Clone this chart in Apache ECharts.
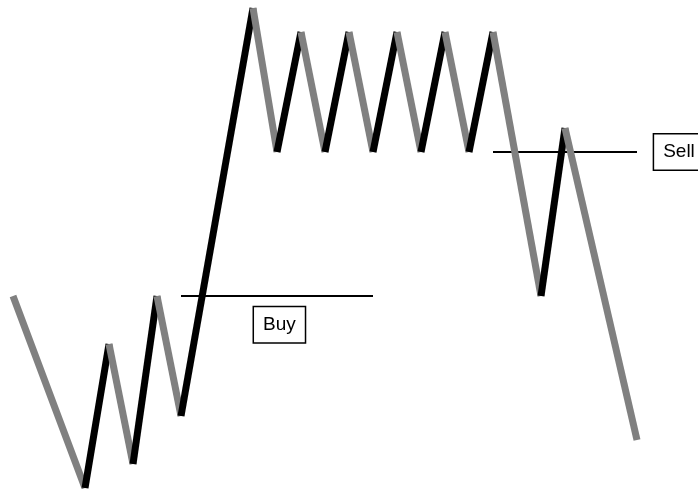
<!DOCTYPE html>
<html>
<head>
<meta charset="utf-8">
<script src="https://cdn.jsdelivr.net/npm/echarts@6/dist/echarts.min.js"></script>
<style>
  html, body { margin: 0; padding: 0; background: #fff; }
  #chart { width: 698px; height: 489px; }
</style>
</head>
<body>
<div id="chart"></div>
<script>
// zigzag price path: time step and price level at each turning point
const steps = [0, 3, 4, 5, 6, 7, 10, 11, 12, 13, 14, 15, 16, 17, 18, 19, 20, 22, 23, 26];
const prices = [8, 0, 6, 1, 8, 3, 20, 14, 19, 14, 19, 14, 19, 14, 19, 14, 19, 8, 15, 2];

// buy / sell levels: [from step, to step, price]
const levelNames = ["Buy", "Sell"];
const levelFrom = [7, 20];
const levelTo = [15, 26];
const levelPrice = [8, 14];
// where the boxed labels sit
const labelX = [11.1, 27.75];
const labelY = [6.8, 14];

const chart = echarts.init(document.getElementById("chart"));

// one segment per leg, rising legs black, falling legs grey
const legs = [];
for (let i = 1; i < steps.length; i++) {
  const up = prices[i] > prices[i - 1];
  legs.push({
    coords: [[steps[i - 1], prices[i - 1]], [steps[i], prices[i]]],
    lineStyle: { color: up ? "#000000" : "#808080" },
  });
}

const levels = levelNames.map((n, i) => ({
  coords: [[levelFrom[i], levelPrice[i]], [levelTo[i], levelPrice[i]]],
}));

const labelStyle = {
  show: true,
  position: "inside",
  formatter: "{b}",
  fontFamily: "Liberation Sans, Arial, sans-serif",
  fontSize: 19,
  color: "#000",
  backgroundColor: "#fff",
  borderColor: "#000",
  borderWidth: 1.5,
  padding: [8, 9, 8, 9],
};

chart.setOption({
  animation: false,
  backgroundColor: "#fff",
  grid: { left: 13, right: 61, top: 8, bottom: 1 },
  xAxis: { type: "value", min: 0, max: 26, show: false },
  yAxis: { type: "value", min: 0, max: 20, show: false },
  series: [
    {
      type: "lines",
      coordinateSystem: "cartesian2d",
      z: 1,
      lineStyle: { width: 2, color: "#000", opacity: 1 },
      data: levels,
    },
    {
      type: "lines",
      coordinateSystem: "cartesian2d",
      z: 2,
      lineStyle: { width: 7, opacity: 1, cap: "butt" },
      data: legs,
    },
    {
      type: "scatter",
      z: 3,
      clip: false,
      symbolSize: 0,
      itemStyle: { opacity: 1 },
      label: labelStyle,
      data: levelNames.map((n, i) => ({ name: n, value: [labelX[i], labelY[i]] })),
    },
  ],
});
</script>
</body>
</html>
